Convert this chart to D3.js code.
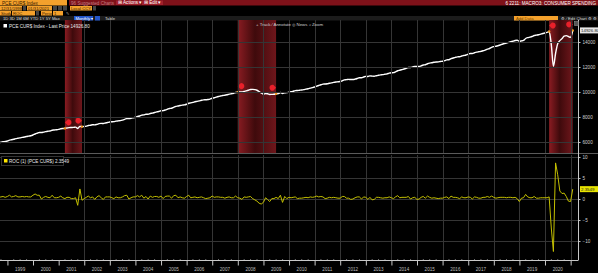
<!DOCTYPE html>
<html><head><meta charset="utf-8">
<script src="https://cdn.jsdelivr.net/npm/d3@7/dist/d3.min.js"></script>
<style>
html,body{margin:0;padding:0;background:#000;overflow:hidden;}
svg{display:block;font-family:"Liberation Sans",Arial,sans-serif;}
</style></head><body>
<svg id="chart" width="598" height="273"></svg>
<script>
// monthly series, first value = Aug 1998 (month-end dated)
const firstYear = 1998, firstMonth = 7;
const pce = [
  5950, 5980, 6020, 6045, 6080,                                                  // 1998 Aug-Dec
  6150, 6180, 6220, 6270, 6300, 6330, 6370, 6400, 6440, 6470, 6500, 6560,        // 1999
  6640, 6700, 6760, 6760, 6790, 6830, 6860, 6880, 6940, 6960, 6980, 7010,        // 2000
  7060, 7080, 7090, 7120, 7150, 7160, 7170, 7190, 7080, 7250, 7230, 7240,        // 2001
  7270, 7320, 7340, 7380, 7370, 7410, 7470, 7490, 7480, 7520, 7560, 7600,        // 2002
  7620, 7630, 7670, 7690, 7710, 7750, 7810, 7880, 7880, 7900, 7940, 7980,        // 2003
  8040, 8080, 8150, 8170, 8220, 8220, 8280, 8310, 8360, 8410, 8440, 8500,        // 2004
  8510, 8560, 8620, 8680, 8700, 8770, 8850, 8880, 8920, 8950, 8970, 9020,        // 2005
  9100, 9130, 9170, 9220, 9250, 9290, 9340, 9370, 9380, 9400, 9430, 9500,        // 2006
  9540, 9590, 9640, 9680, 9720, 9740, 9780, 9830, 9860, 9890, 9960, 9990,        // 2007
  10010, 10000, 10050, 10090, 10140, 10200, 10210, 10190, 10140, 10040, 9920, 9840, // 2008
  9870, 9860, 9800, 9810, 9820, 9860, 9870, 9960, 9880, 9940, 9950, 9990,        // 2009
  10020, 10060, 10110, 10120, 10140, 10160, 10190, 10230, 10260, 10310, 10350, 10400, // 2010
  10470, 10520, 10580, 10630, 10640, 10660, 10700, 10730, 10770, 10800, 10820, 10840, // 2011
  10900, 10970, 10990, 11010, 11000, 11000, 11030, 11080, 11140, 11140, 11200, 11250, // 2012
  11240, 11290, 11270, 11260, 11300, 11340, 11370, 11390, 11420, 11450, 11510, 11540, // 2013
  11550, 11610, 11700, 11740, 11790, 11840, 11890, 11960, 11960, 12000, 12050, 12040, // 2014
  12040, 12090, 12160, 12180, 12260, 12310, 12340, 12380, 12400, 12410, 12440, 12460, // 2015
  12510, 12570, 12580, 12670, 12720, 12770, 12810, 12820, 12880, 12920, 12960, 13030, // 2016
  13080, 13080, 13140, 13190, 13220, 13250, 13300, 13350, 13430, 13480, 13570, 13630, // 2017
  13660, 13700, 13760, 13820, 13880, 13920, 13970, 14020, 14060, 14120, 14140, 14060, // 2018
  14090, 14130, 14280, 14350, 14390, 14440, 14520, 14550, 14580, 14630, 14680, 14720, // 2019
  14770, 14840, 13790, 12060, 13080, 13860, 14110, 14270, 14470, 14510, 14440, 14380, // 2020
  14927                                                                          // 2021 Jan
];
const roc = [
  0.4, 0.5, 0.6, 0.4, 0.6,
  0.9, 0.5, 0.6, 0.8, 0.5, 0.5, 0.6, 0.5, 0.6, 0.5, 0.5, 0.9,
  1.2, 0.9, 0.9, 0.0, 0.4, 0.6, 0.4, 0.3, 0.9, 0.3, 0.3, 0.4,
  0.7, 0.3, 0.1, 0.4, 0.4, 0.1, 0.1, 0.3, -1.5, 2.4, -0.3, 0.1,
  0.4, 0.7, 0.3, 0.5, -0.1, 0.5, 0.8, 0.3, -0.1, 0.5, 0.5, 0.5,
  0.3, 0.1, 0.5, 0.3, 0.3, 0.5, 0.8, 0.9, 0.0, 0.3, 0.5, 0.5,
  0.8, 0.5, 0.9, 0.2, 0.6, 0.0, 0.7, 0.4, 0.6, 0.6, 0.4, 0.7,
  0.1, 0.6, 0.7, 0.7, 0.2, 0.8, 0.9, 0.3, 0.5, 0.3, 0.2, 0.6,
  0.9, 0.3, 0.4, 0.5, 0.3, 0.4, 0.5, 0.3, 0.1, 0.2, 0.3, 0.7,
  0.4, 0.5, 0.5, 0.4, 0.4, 0.2, 0.4, 0.5, 0.3, 0.3, 0.7, 0.3,
  0.2, -0.1, 0.5, 0.4, 0.5, 0.6, 0.1, -0.2, -0.5, -1.0, -1.2, -0.8,
  0.3, -0.1, -0.6, 0.1, 0.1, 0.4, 0.1, 0.9, -0.8, 0.6, 0.1, 0.4,
  0.3, 0.4, 0.5, 0.1, 0.2, 0.2, 0.3, 0.4, 0.3, 0.5, 0.4, 0.5,
  0.7, 0.5, 0.6, 0.5, 0.1, 0.2, 0.4, 0.3, 0.4, 0.3, 0.2, 0.2,
  0.6, 0.6, 0.2, 0.2, -0.1, 0.0, 0.3, 0.5, 0.5, 0.0, 0.5, 0.4,
  -0.1, 0.4, -0.2, -0.1, 0.4, 0.4, 0.3, 0.2, 0.3, 0.3, 0.5, 0.3,
  0.1, 0.5, 0.8, 0.3, 0.4, 0.4, 0.4, 0.6, 0.0, 0.3, 0.4, -0.1,
  0.0, 0.4, 0.6, 0.2, 0.7, 0.4, 0.2, 0.3, 0.2, 0.1, 0.2, 0.2,
  0.4, 0.5, 0.1, 0.7, 0.4, 0.4, 0.3, 0.1, 0.5, 0.3, 0.3, 0.5,
  0.4, 0.0, 0.5, 0.4, 0.2, 0.2, 0.4, 0.4, 0.6, 0.4, 0.7, 0.4,
  0.2, 0.3, 0.4, 0.4, 0.4, 0.3, 0.4, 0.4, 0.3, 0.4, 0.1, -0.6,
  0.2, 0.3, 1.1, 0.5, 0.3, 0.3, 0.6, 0.2, 0.2, 0.3, 0.3, 0.3,
  0.3, 0.5, -6.9, -12.5, 8.6, 5.8, 1.9, 1.3, 1.4, 0.6, -0.5, -0.6,
  2.35
];
const yearLabels = ["1999","2000","2001","2002","2003","2004","2005","2006","2007","2008","2009",
  "2010","2011","2012","2013","2014","2015","2016","2017","2018","2019","2020"];
const pceTicks = [6000, 8000, 10000, 12000, 14000];
const rocTicks = [-10, -5, 0, 5, 10];
const recessions = [["2001-03-31", "2001-11-30"], ["2007-12-31", "2009-06-30"], ["2020-02-29", "2021-01-31"]];
const lastPrice = "14926.80";
const lastRoc = "2.3549";

const svg = d3.select("#chart");
const plotW = 578;
const pTop = {y0: 20, y1: 153};
const pBot = {y0: 155, y1: 260};
const orange = "#f4a12c", red = "#7e1119", grid = "#353535", axisCol = "#c8c8c8";

const monthEnd = i => new Date(firstYear, firstMonth + i + 1, 0);
const pceData = pce.map((v, i) => ({date: monthEnd(i), v}));
const rocData = roc.map((v, i) => ({date: monthEnd(i), v}));

const x = d3.scaleTime().domain([new Date(1998, 8, 17), new Date(2021, 3, 16)]).range([0, plotW]);
const yTop = d3.scaleLinear().domain([5120, 15760]).range([pTop.y1, pTop.y0]);
const yBot = d3.scaleLinear().domain([-14.52, 10.48]).range([pBot.y1, pBot.y0]);

const defs = svg.append("defs");
const grad = defs.append("linearGradient").attr("id", "rec").attr("x1", 0).attr("x2", 1).attr("y1", 0).attr("y2", 0);
grad.append("stop").attr("offset", "0%").attr("stop-color", "#8a1c22");
grad.append("stop").attr("offset", "45%").attr("stop-color", "#3f0a0c");
grad.append("stop").attr("offset", "100%").attr("stop-color", "#6e161b");
defs.append("clipPath").attr("id", "clipTop").append("rect").attr("x", 0).attr("y", pTop.y0).attr("width", plotW).attr("height", pTop.y1 - pTop.y0);
defs.append("clipPath").attr("id", "clipBot").append("rect").attr("x", 0).attr("y", pBot.y0).attr("width", plotW).attr("height", pBot.y1 - pBot.y0);

// ---- toolbar ----
function box(x0, y0, w, h, fill) {
  svg.append("rect").attr("x", x0).attr("y", y0).attr("width", w).attr("height", h).attr("fill", fill);
}
function label(x0, y0, t, col, size, anchor) {
  svg.append("text").attr("x", x0).attr("y", y0).text(t).attr("fill", col)
    .attr("font-size", size || 4.6).attr("text-anchor", anchor || "start");
}
box(0, 0, 598, 20, "#000");
box(0, 0, 67, 5.5, orange);
label(2, 4.6, "PCE CUR$ Index", "#3a2000");
box(69, 0, 529, 5.5, red);
label(71, 4.6, "96 Suggested Charts", "#c07a80");
box(116, 0.5, 24, 4.5, "#a0202c");
label(118, 4.4, "\u229e Actions \u25be", "#fff");
box(142, 0.5, 21, 4.5, "#a0202c");
label(144, 4.4, "\u229e Edit \u25be", "#fff");
label(596, 4.6, "6 2211: MACRO3: CONSUMER SPENDING", "#fff", 4.6, "end");

box(0, 6, 22, 4.5, orange);
label(1, 10, "12/31/1998", "#3a2000", 4.2);
box(23, 6, 3, 4.5, "#444");
box(27, 6, 25, 4.5, orange);
label(28, 10, "01/31/2021", "#3a2000", 4.2);
box(53, 6, 4, 4.5, "#444"); box(58, 6, 4, 4.5, "#444"); box(63, 6, 4, 4.5, "#444");
box(70, 6, 22, 4.5, orange);
label(71, 10, "Local CCY", "#3a2000", 4.2);
box(93, 6, 3, 4.5, "#444");

box(0, 11, 11, 4.5, orange);
label(1, 15, "Study", "#3a2000", 4.2);
box(12, 11, 23, 4.5, orange);
label(13, 15, "ROC", "#3a2000", 4.2);
box(36, 11, 3, 4.5, "#444");
box(41, 11, 11, 4.5, orange);
label(42, 15, "Period", "#3a2000", 4.2);
box(53, 11, 10, 4.5, orange);
label(54, 15, "1", "#3a2000", 4.2);
label(66, 15, "\u270e", "#ddd", 4.2);

box(0, 16, 598, 4.5, "#1c1c1c");
label(3, 19.7, "1D   3D   1M   6M   YTD   1Y   5Y   Max", "#ddd", 4.2);
box(74, 16, 19, 4.5, "#2456c9");
label(75.5, 19.7, "Monthly \u25be", "#fff", 4.2);
box(95, 16, 5, 4.5, "#2456c9");
label(105, 19.7, "Table", "#ddd", 4.2);
box(514, 16, 44, 4.5, orange);
label(516, 19.7, "Add Data", "#7a4a00", 4.2);
label(561, 19.7, "\u2699 \u2215 Edit Chart \u2699 \u2699", "#ddd", 4.2);

// ---- recession shading (top panel) ----
const gTop = svg.append("g").attr("clip-path", "url(#clipTop)");
const parse = d3.timeParse("%Y-%m-%d");
gTop.selectAll("rect.rec").data(recessions).enter().append("rect").attr("class", "rec")
  .attr("x", d => x(parse(d[0]))).attr("y", pTop.y0)
  .attr("width", d => x(parse(d[1])) - x(parse(d[0]))).attr("height", pTop.y1 - pTop.y0)
  .attr("fill", "url(#rec)");

// ---- grid ----
const yearStarts = yearLabels.map(y => new Date(+y, 0, 1)).concat([new Date(2021, 0, 1)]);
const gridYears = yearStarts.filter(d => d.getFullYear() >= 2002);
[pTop, pBot].forEach(p => {
  svg.append("g").selectAll("line").data(gridYears).enter().append("line")
    .attr("x1", d => Math.round(x(d)) + 0.5).attr("x2", d => Math.round(x(d)) + 0.5)
    .attr("y1", p.y0).attr("y2", p.y1).attr("stroke", grid).attr("stroke-width", 1);
});
svg.append("g").selectAll("line").data(pceTicks).enter().append("line")
  .attr("x1", 0).attr("x2", plotW).attr("y1", d => Math.round(yTop(d)) + 0.5).attr("y2", d => Math.round(yTop(d)) + 0.5)
  .attr("stroke", grid);
svg.append("g").selectAll("line").data(rocTicks).enter().append("line")
  .attr("x1", 0).attr("x2", plotW).attr("y1", d => Math.round(yBot(d)) + 0.5).attr("y2", d => Math.round(yBot(d)) + 0.5)
  .attr("stroke", grid);

// panel separator
svg.append("line").attr("x1", 0).attr("x2", 598).attr("y1", 153.5).attr("y2", 153.5).attr("stroke", "#5a5a5a");

// ---- PCE line ----
const lineTop = d3.line().x(d => x(d.date)).y(d => yTop(d.v)).curve(d3.curveMonotoneX);
gTop.append("path").datum(pceData).attr("d", lineTop).attr("fill", "none")
  .attr("stroke", "#fff").attr("stroke-width", 1.4);

// recession start/end markers
const bis = d3.bisector(d => d.date).left;
const valAt = dt => pceData[Math.min(bis(pceData, dt), pceData.length - 1)].v;
recessions.forEach(r => {
  const d0 = parse(r[0]), d1 = parse(r[1]);
  [[d0, 1], [d1, -1]].forEach(([dt, dir]) => {
    const px = x(dt), py = yTop(valAt(dt));
    gTop.append("circle").attr("cx", px).attr("cy", py).attr("r", 1.2).attr("fill", "#f39a1e");
    const cx = px + dir * 4, cy = py - 6;
    gTop.append("path")
      .attr("d", `M${cx - dir * 4},${cy} L${cx - dir * 1.2},${cy - 2.9} A3,3 0 1 ${dir > 0 ? 1 : 0} ${cx - dir * 1.2},${cy + 2.9} Z`)
      .attr("fill", "#e8202a");
  });
});

// ---- ROC line ----
const gBot = svg.append("g").attr("clip-path", "url(#clipBot)");
const lineBot = d3.line().x(d => x(d.date)).y(d => yBot(d.v));
gBot.append("path").datum(rocData).attr("d", lineBot).attr("fill", "none")
  .attr("stroke", "#c4c000").attr("stroke-width", 1);

// ---- right axes ----
svg.append("line").attr("x1", plotW + 0.5).attr("x2", plotW + 0.5).attr("y1", pTop.y0).attr("y2", pBot.y1)
  .attr("stroke", axisCol);
const axTop = svg.append("g").attr("transform", `translate(${plotW + 0.5},0)`)
  .call(d3.axisRight(yTop).tickValues(pceTicks).tickFormat(d3.format("d")).tickSize(2).tickPadding(2));
const axBot = svg.append("g").attr("transform", `translate(${plotW + 0.5},0)`)
  .call(d3.axisRight(yBot).tickValues(rocTicks).tickFormat(d3.format("d")).tickSize(2).tickPadding(2));
[axTop, axBot].forEach(a => {
  a.select(".domain").remove();
  a.selectAll("line").attr("stroke", axisCol);
  a.selectAll("text").attr("fill", "#d0d0d0").attr("font-size", 4.6).attr("font-family", "Liberation Sans, Arial");
});

// last value tags
function tag(yv, txt, fill, col) {
  svg.append("rect").attr("x", plotW + 2).attr("y", yv - 3).attr("width", 18).attr("height", 6).attr("fill", fill);
  svg.append("text").attr("x", plotW + 3).attr("y", yv + 1.7).text(txt).attr("fill", col).attr("font-size", 4.4);
}
tag(yTop(pce[pce.length - 1]), lastPrice, "#e6e6e6", "#222");
tag(yBot(roc[roc.length - 1]), lastRoc, "#e8e400", "#222");

// small icon at top right of plot
svg.append("rect").attr("x", 574.5).attr("y", 21.5).attr("width", 4).attr("height", 4)
  .attr("fill", "#555").attr("stroke", "#999").attr("stroke-width", 0.5);

// ---- bottom time axis ----
const axY = pBot.y1 + 0.5;
svg.append("line").attr("x1", 0).attr("x2", plotW + 0.5).attr("y1", axY).attr("y2", axY).attr("stroke", axisCol);
svg.append("g").attr("transform", `translate(0,${axY})`)
  .call(d3.axisBottom(x).tickValues(yearStarts).tickSize(5).tickFormat(""))
  .call(g => { g.select(".domain").remove(); g.selectAll("line").attr("stroke", axisCol); });
const quarters = d3.timeMonth.every(3).range(new Date(1998, 9, 1), new Date(2021, 1, 1)).filter(d => d.getMonth() !== 0);
svg.append("g").selectAll("line").data(quarters).enter().append("line")
  .attr("x1", d => x(d)).attr("x2", d => x(d)).attr("y1", axY - 1.2).attr("y2", axY)
  .attr("stroke", axisCol).attr("stroke-width", 0.8);
svg.append("g").selectAll("text").data(yearLabels).enter().append("text")
  .attr("x", d => x(new Date(+d, 6, 1))).attr("y", 270.5).attr("text-anchor", "middle")
  .attr("fill", "#bdbdbd").attr("font-size", 4.6).text(d => d);

// ---- legends and chart toolbar ----
svg.append("rect").attr("x", 3.5).attr("y", 24).attr("width", 3.5).attr("height", 3.5).attr("fill", "#fff");
label(9, 28, "PCE CUR$ Index - Last Price " + lastPrice, "#e8e8e8", 4.6);
label(256, 25.5, "+ Track   \u2215 Annotate   \u25ce News   \u2315 Zoom", "#cfcfcf", 4.4);

svg.append("rect").attr("x", 1.5).attr("y", 156.5).attr("width", 62).attr("height", 9).attr("fill", "#000").attr("stroke", "#333");
svg.append("rect").attr("x", 4).attr("y", 159).attr("width", 3.5).attr("height", 3.5).attr("fill", "#ffe600");
label(9, 163, "ROC (1) (PCE CUR$) " + lastRoc, "#e8e8e8", 4.6);
</script>
</body></html>
